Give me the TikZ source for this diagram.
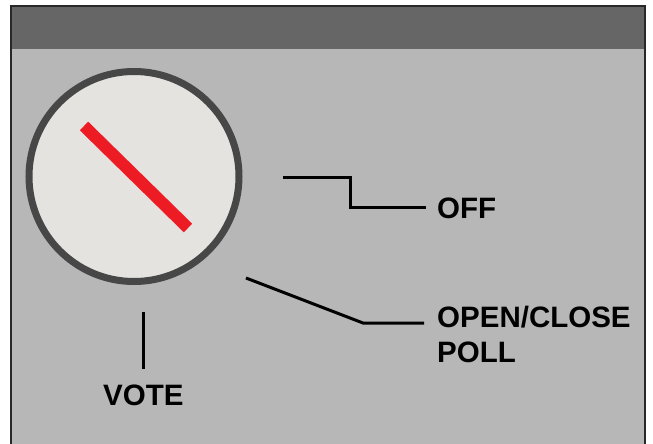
\documentclass[tikz,border=0pt]{standalone}
\usepackage{fontspec}
\setmainfont{Liberation Sans}
\usetikzlibrary{positioning}
\definecolor{barGray}{RGB}{102,102,102}
\definecolor{panelGray}{RGB}{183,183,183}
\definecolor{dialFill}{RGB}{229,227,224}
\definecolor{dialRing}{RGB}{71,71,71}
\definecolor{knobRed}{RGB}{237,28,36}
\definecolor{frameDark}{RGB}{40,40,40}

\begin{document}
\begin{tikzpicture}[x=1pt, y=-1pt,
  dial/.style={circle, draw=dialRing, line width=7pt, fill=dialFill, minimum size=210pt, inner sep=0pt},
  pointer/.style={draw=knobRed, line width=12pt, line cap=butt},
  lbl/.style={font=\fontsize{29.5}{35}\selectfont\bfseries, inner sep=0pt, anchor=base west, align=left},
  lead/.style={draw=black, line width=3pt}
]
\useasboundingbox (0,0) rectangle (653,444);
% panel and top bar
\fill[panelGray] (11,6) rectangle (645,450);
\fill[barGray] (11,6) rectangle (645,49);
\draw[frameDark, line width=2pt] (11,450) -- (11,6) -- (645,6) -- (645,450);

% selector dial
\node[dial] (dial) at (134,176.5) {};
\coordinate (ptrA) at (84,126);
\coordinate (ptrB) at (188,228);
\draw[pointer] (ptrA) -- (ptrB);

% labels
\node[lbl] (off) at (437,218) {OFF};
\node[lbl] (poll) at (437,362) {OPEN/CLOSE\\POLL};
\node[lbl] (vote) at (103,405) {VOTE};

% leader lines
\coordinate (offStart) at (283,177);
\coordinate (pollStart) at (246,278);
\coordinate (voteTop) at (143,312);
\coordinate (voteEnd) at (143,369);
\draw[lead] (offStart) -- (350,177) |- ([xshift=-11pt]off.west);
\draw[lead] (pollStart) -- (363,323) -- (424,323);
\draw[lead] (voteTop) -- (voteEnd);
\end{tikzpicture}
\end{document}
